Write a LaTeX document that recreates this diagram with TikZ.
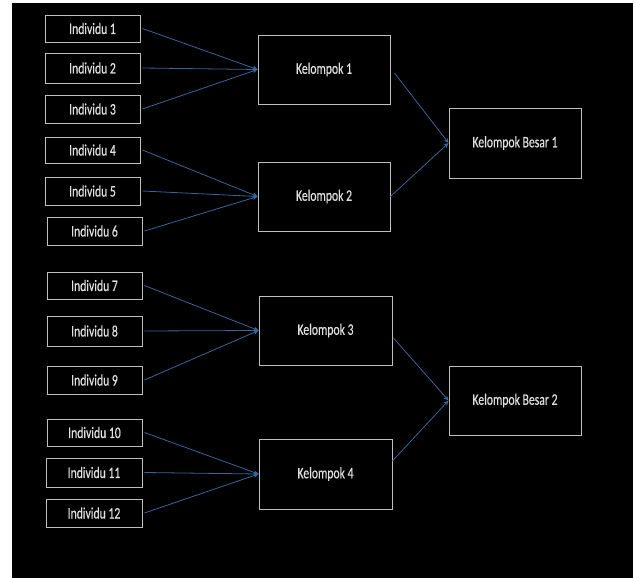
\documentclass[tikz,border=0pt]{standalone}
\usepackage{fontspec}
\setmainfont{Carlito}[FakeStretch=0.73,FakeBold=0.4]
\usetikzlibrary{arrows.meta}
\definecolor{conncol}{HTML}{35659A}
\definecolor{boxline}{HTML}{BFBFBF}
\definecolor{txtcol}{HTML}{E0E0E0}
\begin{document}
\begin{tikzpicture}[x=1pt,y=-1pt,
  box/.style={draw=boxline, line width=0.9pt, text=txtcol,
    font=\fontsize{16}{19}\selectfont, inner sep=0pt, anchor=center},
  ind/.style={box, minimum width=95pt},
  grp/.style={box, minimum width=132pt, minimum height=69pt},
  conn/.style={draw=conncol, line width=0.8pt, -{Stealth[length=5pt,width=4.5pt]}}]
\useasboundingbox (0,0) rectangle (635,578);
\fill[white] (0,0) rectangle (635,578);
\fill[black] (12,3) rectangle (633,578);

% individuals
\node[ind, minimum height=27pt] (i1) at (92.5,28.5) {Individu 1};
\node[ind, minimum height=30pt] (i2) at (92.5,68) {Individu 2};
\node[ind, minimum height=28pt] (i3) at (92.5,109) {Individu 3};
\node[ind, minimum height=26pt] (i4) at (92.5,150) {Individu 4};
\node[ind, minimum height=28pt] (i5) at (92.5,191) {Individu 5};
\node[ind, minimum height=28pt] (i6) at (94.5,231) {Individu 6};
\node[ind, minimum height=27pt] (i7) at (94.5,285.5) {Individu 7};
\node[ind, minimum height=30pt] (i8) at (94.5,331) {Individu 8};
\node[ind, minimum height=28pt] (i9) at (94.5,380) {Individu 9};
\node[ind, minimum height=27pt] (i10) at (94.5,432.5) {Individu 10};
\node[ind, minimum height=29pt, minimum width=96pt] (i11) at (94,472.5) {Individu 11};
\node[ind, minimum height=28pt, minimum width=96pt] (i12) at (94,513) {Individu 12};

% groups
\node[grp] (k1) at (324,69.5) {Kelompok 1};
\node[grp] (k2) at (324,196.5) {Kelompok 2};
\node[grp, minimum width=133pt] (k3) at (325.5,330.5) {Kelompok 3};
\node[grp, minimum width=133pt, minimum height=70pt] (k4) at (325.5,474) {Kelompok 4};
\node[grp, minimum height=70pt] (b1) at (515,143) {Kelompok Besar 1};
\node[grp] (b2) at (515,400.5) {Kelompok Besar 2};

% connectors
\foreach \i in {1,2,3} \draw[conn] ([xshift=2pt]i\i.east) -- (k1.west);
\foreach \i in {4,5,6} \draw[conn] ([xshift=2pt]i\i.east) -- (k2.west);
\foreach \i in {7,8,9} \draw[conn] ([xshift=2pt]i\i.east) -- (k3.west);
\foreach \i in {10,11,12} \draw[conn] ([xshift=2pt]i\i.east) -- (k4.west);
\draw[conn] ([xshift=4pt,yshift=-3.5pt]k1.east) -- (b1.west);
\draw[conn] (k2.east) -- (b1.west);
\draw[conn] ([xshift=1pt,yshift=-7.5pt]k3.east) -- (b2.west);
\draw[conn] ([yshift=13pt]k4.east) -- (b2.west);
\end{tikzpicture}
\end{document}
